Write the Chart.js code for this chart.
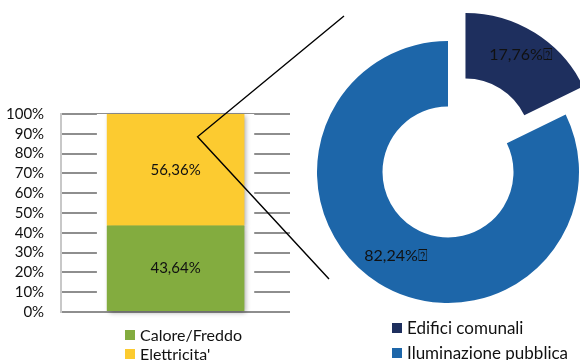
<!DOCTYPE html>
<html>
<head>
<meta charset="utf-8">
<script src="https://cdn.jsdelivr.net/npm/chart.js@4/dist/chart.umd.min.js"></script>
<style>
  body { margin: 0; background: #fff; font-family: Lato, sans-serif; }
  #wrap { position: relative; width: 580px; height: 360px; overflow: hidden; }
  #barBox { position: absolute; left: -19px; top: 0; width: 319px; height: 338px; }
  #pieBox { position: absolute; left: 316px; top: 0; width: 264px; height: 344px; }
  #lines { position: absolute; left: 0; top: 0; pointer-events: none; }
  .legend { position: absolute; color: #111; }
  .legend div { display: flex; align-items: center; white-space: nowrap; }
  .legend span.sw { display: inline-block; width: 10px; height: 10px; margin-right: 5px; }
  #barLegend { left: 125px; top: 325px; font-size: 16px; line-height: 19px; }
  #pieLegend { left: 392px; top: 315px; font-size: 17px; line-height: 25px; }
</style>
</head>
<body>
<div id="wrap">
  <div id="barBox"><canvas id="barChart"></canvas></div>
  <div id="pieBox"><canvas id="pieChart"></canvas></div>
  <div class="legend" id="barLegend"></div>
  <div class="legend" id="pieLegend"></div>
  <canvas id="lines" width="580" height="360"></canvas>
</div>
<script>
// energy use split: heating/cooling vs electricity, then electricity by use
const barSeries = ['Calore/Freddo', "Elettricita'"];
const barShares = [43.64, 56.36];
const barColors = ['#83ac3f', '#fccb30'];

const pieCategories = ['Edifici comunali', 'Iluminazione pubblica'];
const pieShares = [17.76, 82.24];
const pieColors = ['#1e2f5e', '#1d66a9'];
const pieExplode = [33, 0];

const fmt = v => v.toFixed(2).replace('.', ',') + '%';

// white halo behind the bar so gridlines stop short of it, plus a soft shadow
const barHalo = {
  id: 'barHalo',
  beforeDatasetsDraw(chart) {
    const ctx = chart.ctx;
    ctx.save();
    chart.data.datasets.forEach((ds, i) => {
      chart.getDatasetMeta(i).data.forEach(bar => {
        const left = bar.x - bar.width / 2;
        const top = Math.min(bar.y, bar.base);
        const h = Math.abs(bar.base - bar.y);
        ctx.fillStyle = '#fff';
        ctx.fillRect(left - 10, top, bar.width + 20, h);
        ctx.shadowColor = 'rgba(0,0,0,0.35)';
        ctx.shadowBlur = 5;
        ctx.shadowOffsetX = 2;
        ctx.shadowOffsetY = 2;
        ctx.fillStyle = ds.backgroundColor;
        ctx.fillRect(left, top, bar.width, h);
        ctx.shadowColor = 'transparent';
      });
    });
    ctx.restore();
  },
  afterDatasetsDraw(chart) {
    const ctx = chart.ctx;
    ctx.save();
    ctx.font = '15px Lato';
    ctx.fillStyle = '#111';
    ctx.textAlign = 'center';
    ctx.textBaseline = 'middle';
    chart.data.datasets.forEach((ds, i) => {
      chart.getDatasetMeta(i).data.forEach((bar, j) => {
        ctx.fillText(fmt(ds.data[j]), bar.x, (bar.y + bar.base) / 2);
      });
    });
    ctx.restore();
  }
};

const barChart = new Chart(document.getElementById('barChart'), {
  type: 'bar',
  data: {
    labels: [''],
    datasets: barSeries.map((name, i) => ({
      label: name,
      data: [barShares[i]],
      backgroundColor: barColors[i],
      borderWidth: 0
    }))
  },
  options: {
    responsive: true,
    maintainAspectRatio: false,
    animation: false,
    layout: { padding: { top: 114, left: 8, right: 10, bottom: 4 } },
    datasets: { bar: { barPercentage: 0.6, categoryPercentage: 1 } },
    scales: {
      x: { stacked: true, display: false },
      y: {
        stacked: true,
        min: 0,
        max: 100,
        ticks: {
          stepSize: 10,
          padding: 17,
          color: '#111',
          font: { family: 'Lato', size: 15 },
          callback: v => v + '%'
        },
        grid: { color: '#8e8e8e', lineWidth: 2, drawTicks: false },
        border: { display: true, color: '#c8c8c8', width: 2 }
      }
    },
    plugins: { legend: { display: false }, tooltip: { enabled: false } }
  },
  plugins: [barHalo]
});

// pull exploded slices out along their middle angle, then label each slice
const pieLabels = {
  id: 'pieLabels',
  afterUpdate(chart) {
    chart.getDatasetMeta(0).data.forEach((arc, i) => {
      const d = pieExplode[i];
      if (!d) return;
      const mid = (arc.startAngle + arc.endAngle) / 2;
      arc.x += Math.cos(mid) * d;
      arc.y += Math.sin(mid) * d;
    });
  },
  afterDatasetsDraw(chart) {
    const ctx = chart.ctx;
    const ds = chart.data.datasets[0];
    ctx.save();
    ctx.font = '16px Lato';
    ctx.fillStyle = '#111';
    ctx.textAlign = 'center';
    ctx.textBaseline = 'middle';
    chart.getDatasetMeta(0).data.forEach((arc, i) => {
      const mid = (arc.startAngle + arc.endAngle) / 2;
      const r = (arc.innerRadius + arc.outerRadius) / 2 + pieExplode[i] * 0.2;
      ctx.fillText(fmt(ds.data[i]) + '\u2370', arc.x + Math.cos(mid) * r, arc.y + Math.sin(mid) * r);
    });
    ctx.restore();
  }
};

const pieChart = new Chart(document.getElementById('pieChart'), {
  type: 'doughnut',
  data: {
    labels: pieCategories,
    datasets: [{
      data: pieShares,
      backgroundColor: pieColors,
      borderWidth: 0
    }]
  },
  options: {
    responsive: true,
    maintainAspectRatio: false,
    animation: false,
    radius: 131,
    cutout: '50%',
    plugins: { legend: { display: false }, tooltip: { enabled: false } }
  },
  plugins: [pieLabels]
});

function buildLegend(id, names, colors) {
  const box = document.getElementById(id);
  names.forEach((n, i) => {
    const row = document.createElement('div');
    row.innerHTML = '<span class="sw" style="background:' + colors[i] + '"></span>' + n;
    box.appendChild(row);
  });
}
buildLegend('barLegend', barSeries, barColors);
buildLegend('pieLegend', pieCategories, pieColors);

// connector lines from the electricity bar out to the breakdown ring
const lc = document.getElementById('lines').getContext('2d');
const elec = barChart.getDatasetMeta(1).data[0];
const vx = elec.x - 19 + 22;
const vy = barChart.scales.y.getPixelForValue(88.5);
lc.strokeStyle = '#000';
lc.lineWidth = 1.4;
lc.beginPath();
lc.moveTo(344, 16);
lc.lineTo(vx, vy);
lc.lineTo(329, 279);
lc.stroke();
</script>
</body>
</html>
